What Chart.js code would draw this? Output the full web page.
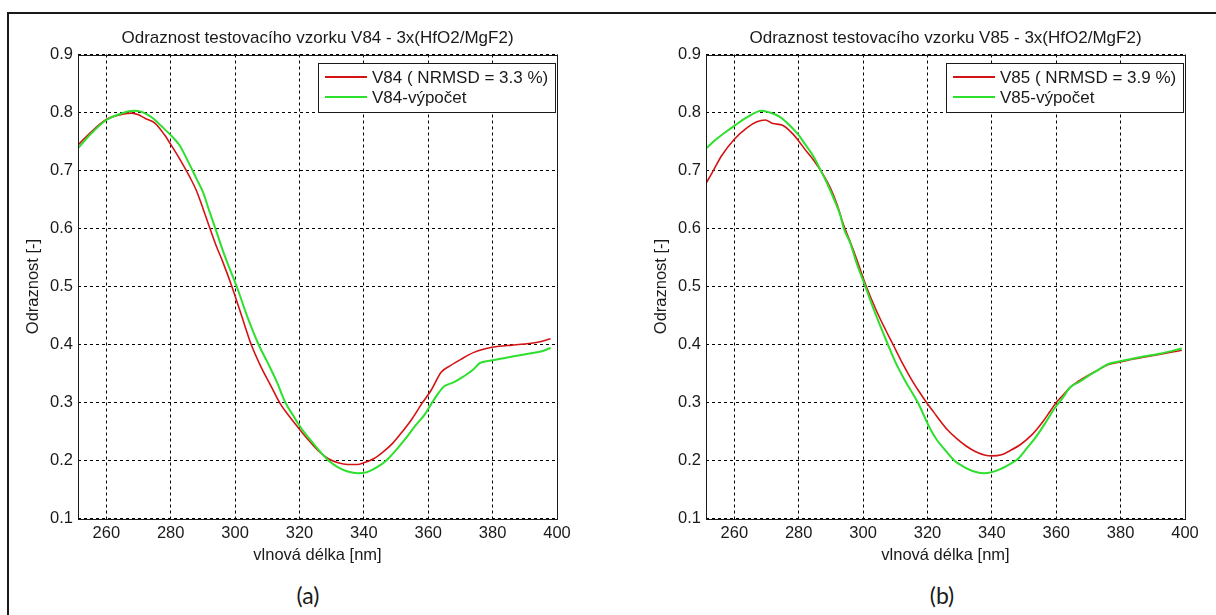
<!DOCTYPE html>
<html lang="cs">
<head>
<meta charset="UTF-8">
<title>Odraznost testovacích vzorků V84 a V85</title>
<script src="https://cdn.jsdelivr.net/npm/chart.js"></script>
<style>
  * { margin: 0; padding: 0; box-sizing: border-box; }
  body { width: 1216px; height: 615px; background: #fff; overflow: hidden; position: relative; }
  .frame { position: absolute; left: 7px; top: 12px; right: 0; bottom: 0; border-top: 2px solid #1a1a1a; border-left: 2px solid #1a1a1a; }
  canvas { position: absolute; top: 0; }
  #chartA { left: 0; }
  #chartB { left: 628px; }
  .tag { position: absolute; top: 581px; width: 100px; text-align: center; font: 23px/28px Lato, 'Open Sans', sans-serif; color: #1a1a1a; }
</style>
</head>
<body>
<div class="frame"></div>
<canvas id="chartA" width="588" height="575"></canvas>
<canvas id="chartB" width="588" height="575"></canvas>
<div class="tag" style="left:258px">(a)</div>
<div class="tag" style="left:892px">(b)</div>
<script>
  // V84: měření a výpočet
  const v84Nm = [251.2, 255, 260, 265, 268, 270, 272, 275, 278, 280, 283, 286, 288, 290, 292, 294, 296, 299, 302, 305,
    308, 311, 314, 317, 320, 323, 326, 329, 332, 335, 338, 340, 343, 346, 349, 352, 355, 358, 361, 364,
    367, 370, 374, 378, 382, 386, 390, 394, 398];
  const v84Meas = [0.744, 0.765, 0.788, 0.797, 0.799, 0.796, 0.790, 0.782, 0.762, 0.745, 0.718, 0.688, 0.665, 0.635, 0.603, 0.572, 0.545, 0.500, 0.450, 0.400,
    0.362, 0.330, 0.298, 0.275, 0.254, 0.234, 0.216, 0.203, 0.196, 0.193, 0.193, 0.196, 0.203, 0.215, 0.230, 0.250, 0.272, 0.298, 0.322, 0.352,
    0.364, 0.374, 0.386, 0.393, 0.397, 0.399, 0.401, 0.404, 0.410];
  const v84CalcNm = [251.2, 255, 260, 265, 268.5, 271, 274.5, 277, 280, 282.7, 285, 288, 290, 292, 294, 296, 298, 300.5, 304, 307.3,
    310, 313, 315.6, 318, 320, 323, 326, 329, 332, 335, 338, 341, 344, 347, 350, 353, 356, 359, 361, 363,
    365, 368, 371, 374, 376, 379, 383, 387, 391, 395, 398];
  const v84Calc = [0.738, 0.762, 0.787, 0.799, 0.803, 0.801, 0.790, 0.777, 0.761, 0.744, 0.720, 0.686, 0.663, 0.630, 0.598, 0.565, 0.535, 0.500, 0.445, 0.400,
    0.370, 0.335, 0.300, 0.278, 0.260, 0.238, 0.218, 0.200, 0.188, 0.181, 0.178, 0.180, 0.188, 0.200, 0.218, 0.238, 0.260, 0.280, 0.298, 0.315,
    0.328, 0.335, 0.345, 0.357, 0.368, 0.372, 0.376, 0.380, 0.384, 0.388, 0.394];

  // V85: měření a výpočet
  const v85Nm = [251.2, 253, 256, 260, 264, 267, 269.6, 272, 275, 278, 280, 282, 284.6, 287.7, 290, 292, 294, 296, 298, 301,
    304, 307, 309.3, 312, 315, 317.5, 319.7, 322, 324, 326.2, 329, 332, 335, 338, 340, 343, 346, 349, 352, 354,
    356, 358, 360, 362, 364.5, 367, 370, 373, 376, 380, 384, 388, 392, 396, 399];
  const v85Meas = [0.678, 0.695, 0.725, 0.754, 0.774, 0.784, 0.787, 0.781, 0.778, 0.764, 0.751, 0.736, 0.718, 0.692, 0.668, 0.640, 0.605, 0.577, 0.547, 0.500,
    0.460, 0.425, 0.400, 0.370, 0.340, 0.318, 0.300, 0.283, 0.268, 0.253, 0.238, 0.225, 0.215, 0.209, 0.208, 0.210, 0.218, 0.228, 0.242, 0.254,
    0.268, 0.284, 0.300, 0.312, 0.327, 0.337, 0.347, 0.356, 0.365, 0.370, 0.375, 0.379, 0.383, 0.387, 0.390];
  const v85CalcNm = [251.2, 254, 257, 260, 264, 268.5, 271, 274, 277, 280, 282, 284.6, 287, 288.8, 291, 292.9, 294, 296, 298, 300.7,
    303, 305.5, 307.7, 310, 313, 317, 321, 323, 325.5, 328.3, 331, 334, 337.5, 340, 343, 346, 348, 351, 354, 357,
    359.5, 362, 364.5, 367, 370, 373, 376, 380, 384, 388, 392, 396, 399];
  const v85Calc = [0.738, 0.752, 0.765, 0.777, 0.792, 0.803, 0.800, 0.793, 0.779, 0.761, 0.745, 0.724, 0.698, 0.678, 0.650, 0.623, 0.600, 0.575, 0.540, 0.500,
    0.465, 0.430, 0.400, 0.370, 0.338, 0.300, 0.253, 0.235, 0.218, 0.200, 0.190, 0.182, 0.178, 0.180, 0.186, 0.195, 0.202, 0.222, 0.243, 0.268,
    0.290, 0.308, 0.327, 0.335, 0.346, 0.356, 0.366, 0.371, 0.376, 0.380, 0.384, 0.389, 0.393];

  const xTicks = [260, 280, 300, 320, 340, 360, 380, 400];
  const yTicks = [0.1, 0.2, 0.3, 0.4, 0.5, 0.6, 0.7, 0.8, 0.9];

  const INK = '#1a1a1a';
  const RED = '#d41414';
  const GREEN = '#2ee02e';
  const FONT = "'Liberation Sans', Arial, sans-serif";

  const toPoints = (xs, ys) => xs.map((x, i) => ({ x, y: ys[i] }));

  // rámeček grafu, nadpis a legenda uvnitř grafu
  const panelDecor = {
    id: 'panelDecor',
    afterDraw(chart, args, opts) {
      const { ctx, chartArea: a } = chart;
      ctx.save();
      ctx.strokeStyle = INK;
      ctx.lineWidth = 1;
      ctx.strokeRect(Math.round(a.left) + 0.5, Math.round(a.top) + 0.5, Math.round(a.width), Math.round(a.height));

      ctx.fillStyle = INK;
      ctx.font = '17px ' + FONT;
      ctx.textAlign = 'center';
      ctx.textBaseline = 'middle';
      ctx.fillText(opts.title, (a.left + a.right) / 2, 38);

      const w = 237, h = 49;
      const bx = Math.round(a.right - 2 - w), by = Math.round(a.top + 8);
      ctx.fillStyle = '#fff';
      ctx.fillRect(bx, by, w, h);
      ctx.strokeRect(bx + 0.5, by + 0.5, w, h);
      chart.data.datasets.forEach((ds, i) => {
        const y = by + 14 + i * 20;
        ctx.strokeStyle = ds.borderColor;
        ctx.lineWidth = 2;
        ctx.beginPath();
        ctx.moveTo(bx + 7, y);
        ctx.lineTo(bx + 49, y);
        ctx.stroke();
        ctx.fillStyle = INK;
        ctx.textAlign = 'left';
        ctx.fillText(ds.label, bx + 54, y + 1);
      });
      ctx.restore();
    }
  };

  function makeChart(id, title, measLabel, measNm, meas, calcLabel, calcNm, calc) {
    return new Chart(document.getElementById(id), {
      type: 'line',
      data: {
        datasets: [
          { label: measLabel, data: toPoints(measNm, meas), borderColor: RED, borderWidth: 1.6, pointRadius: 0, cubicInterpolationMode: 'monotone', order: 2 },
          { label: calcLabel, data: toPoints(calcNm, calc), borderColor: GREEN, borderWidth: 2, pointRadius: 0, cubicInterpolationMode: 'monotone', order: 1 }
        ]
      },
      options: {
        responsive: false,
        animation: false,
        devicePixelRatio: 1,
        layout: { padding: { left: 0, top: 54.5, right: 31, bottom: 0 } },
        plugins: {
          legend: { display: false },
          tooltip: { enabled: false },
          panelDecor: { title }
        },
        scales: {
          x: {
            type: 'linear',
            min: 251.2,
            max: 400,
            afterBuildTicks: s => { s.ticks = xTicks.map(v => ({ value: v })); },
            afterFit: s => { s.height = 56.5; },
            ticks: { color: INK, font: { family: FONT, size: 16.5 }, padding: 5, maxRotation: 0, callback: v => String(v) },
            grid: { color: '#000', lineWidth: 1, drawTicks: false },
            border: { display: false, dash: [3, 3] },
            title: { display: true, text: 'vlnová délka [nm]', color: INK, font: { family: FONT, size: 16.5 }, padding: { top: 0, bottom: 10 } }
          },
          y: {
            type: 'linear',
            min: 0.1,
            max: 0.9,
            afterBuildTicks: s => { s.ticks = yTicks.map(v => ({ value: v })); },
            afterFit: s => { s.width = 78; },
            ticks: { color: INK, font: { family: FONT, size: 16.5 }, padding: 5, callback: v => v.toFixed(1) },
            grid: { color: '#000', lineWidth: 1, drawTicks: false },
            border: { display: false, dash: [3, 3] },
            title: { display: true, text: 'Odraznost [-]', color: INK, font: { family: FONT, size: 16.5 }, padding: { top: 24, bottom: 0 } }
          }
        }
      },
      plugins: [panelDecor]
    });
  }

  makeChart('chartA', 'Odraznost testovacího vzorku V84 - 3x(HfO2/MgF2)',
    'V84 ( NRMSD = 3.3 %)', v84Nm, v84Meas, 'V84-výpočet', v84CalcNm, v84Calc);
  makeChart('chartB', 'Odraznost testovacího vzorku V85 - 3x(HfO2/MgF2)',
    'V85 ( NRMSD = 3.9 %)', v85Nm, v85Meas, 'V85-výpočet', v85CalcNm, v85Calc);
</script>
</body>
</html>
